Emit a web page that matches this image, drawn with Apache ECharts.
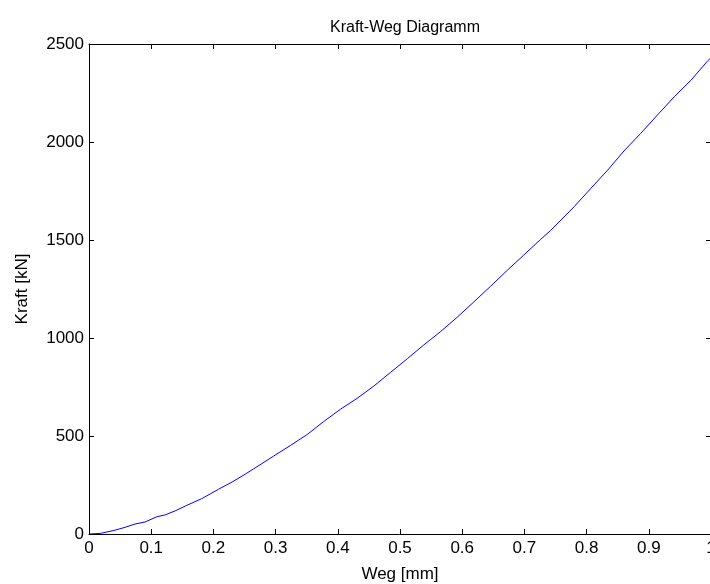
<!DOCTYPE html>
<html>
<head>
<meta charset="utf-8">
<script src="https://cdn.jsdelivr.net/npm/echarts@6/dist/echarts.min.js"></script>
<style>
    html, body { margin: 0; padding: 0; background: #fff; }
    #chart { width: 710px; height: 584px; }
</style>
</head>
<body>
<div id="chart"></div>
<script>
// Weg [mm]
var wegData = [0, 0.018, 0.04, 0.058, 0.074, 0.09, 0.109, 0.122, 0.14, 0.155, 0.181, 0.208, 0.23, 0.251,
    0.265, 0.297, 0.324, 0.351, 0.377, 0.404, 0.431, 0.458, 0.485, 0.512, 0.538, 0.565, 0.592, 0.619,
    0.646, 0.673, 0.699, 0.726, 0.742, 0.78, 0.807, 0.834, 0.86, 0.887, 0.914, 0.941, 0.968, 0.995, 1.0];
// Kraft [kN]
var kraftData = [0, 3, 18, 34, 51, 61, 88, 97, 120, 143, 180, 228, 265, 305,
    333, 398, 452, 508, 573, 636, 692, 755, 825, 895, 964, 1032, 1106, 1185,
    1265, 1347, 1423, 1503, 1548, 1670, 1764, 1857, 1954, 2044, 2138, 2231, 2316, 2415, 2430];

var fontName = 'Liberation Sans, Arial, sans-serif';

/** --------构建数据 ------ */
var points = [];
for (var i = 0; i < wegData.length; i++) {
    points.push([wegData[i], kraftData[i]]);
}

var axisLine = { show: true, onZero: false, lineStyle: { color: '#000', width: 1 } };
var tickIn = { show: true, inside: true, length: 5, lineStyle: { color: '#000' } };

var chart = echarts.init(document.getElementById('chart'));
var option = {
    animation: false,
    title: {
        text: 'Kraft-Weg Diagramm',
        left: 400,
        textAlign: 'center',
        top: 15,
        textStyle: { fontFamily: fontName, fontSize: 16, fontWeight: 'normal', color: '#000' }
    },
    grid: {
        left: 89,
        top: 44,
        width: 622,
        height: 490,
        containLabel: false,
        outerBoundsMode: 'none'
    },
    xAxis: [
        {
            type: 'value',
            min: 0,
            max: 1,
            interval: 0.1,
            position: 'bottom',
            name: 'Weg [mm]',
            nameLocation: 'middle',
            nameGap: 32,
            nameTextStyle: { fontFamily: fontName, fontSize: 17, color: '#000' },
            axisLine: axisLine,
            axisTick: tickIn,
            splitLine: { show: false },
            axisLabel: {
                fontFamily: fontName, fontSize: 17, color: '#000', margin: 6,
                formatter: function (v) { return String(Math.round(v * 10) / 10); }
            }
        },
        {
            type: 'value',
            min: 0,
            max: 1,
            interval: 0.1,
            position: 'top',
            axisLine: axisLine,
            axisTick: tickIn,
            axisLabel: { show: false },
            splitLine: { show: false }
        }
    ],
    yAxis: [
        {
            type: 'value',
            min: 0,
            max: 2500,
            interval: 500,
            position: 'left',
            name: 'Kraft [kN]',
            nameLocation: 'middle',
            nameGap: 58,
            nameRotate: 90,
            nameTextStyle: { fontFamily: fontName, fontSize: 17, color: '#000' },
            axisLine: axisLine,
            axisTick: tickIn,
            splitLine: { show: false },
            axisLabel: {
                fontFamily: fontName, fontSize: 17, color: '#000', margin: 5,
                formatter: function (v) { return String(v); }
            }
        },
        {
            type: 'value',
            min: 0,
            max: 2500,
            interval: 500,
            position: 'right',
            axisLine: axisLine,
            axisTick: tickIn,
            axisLabel: { show: false },
            splitLine: { show: false }
        }
    ],
    series: [
        {
            type: 'line',
            data: points,
            showSymbol: false,
            lineStyle: { color: '#0000ff', width: 1 },
            itemStyle: { color: '#0000ff' }
        }
    ]
};
chart.setOption(option);
</script>
</body>
</html>
